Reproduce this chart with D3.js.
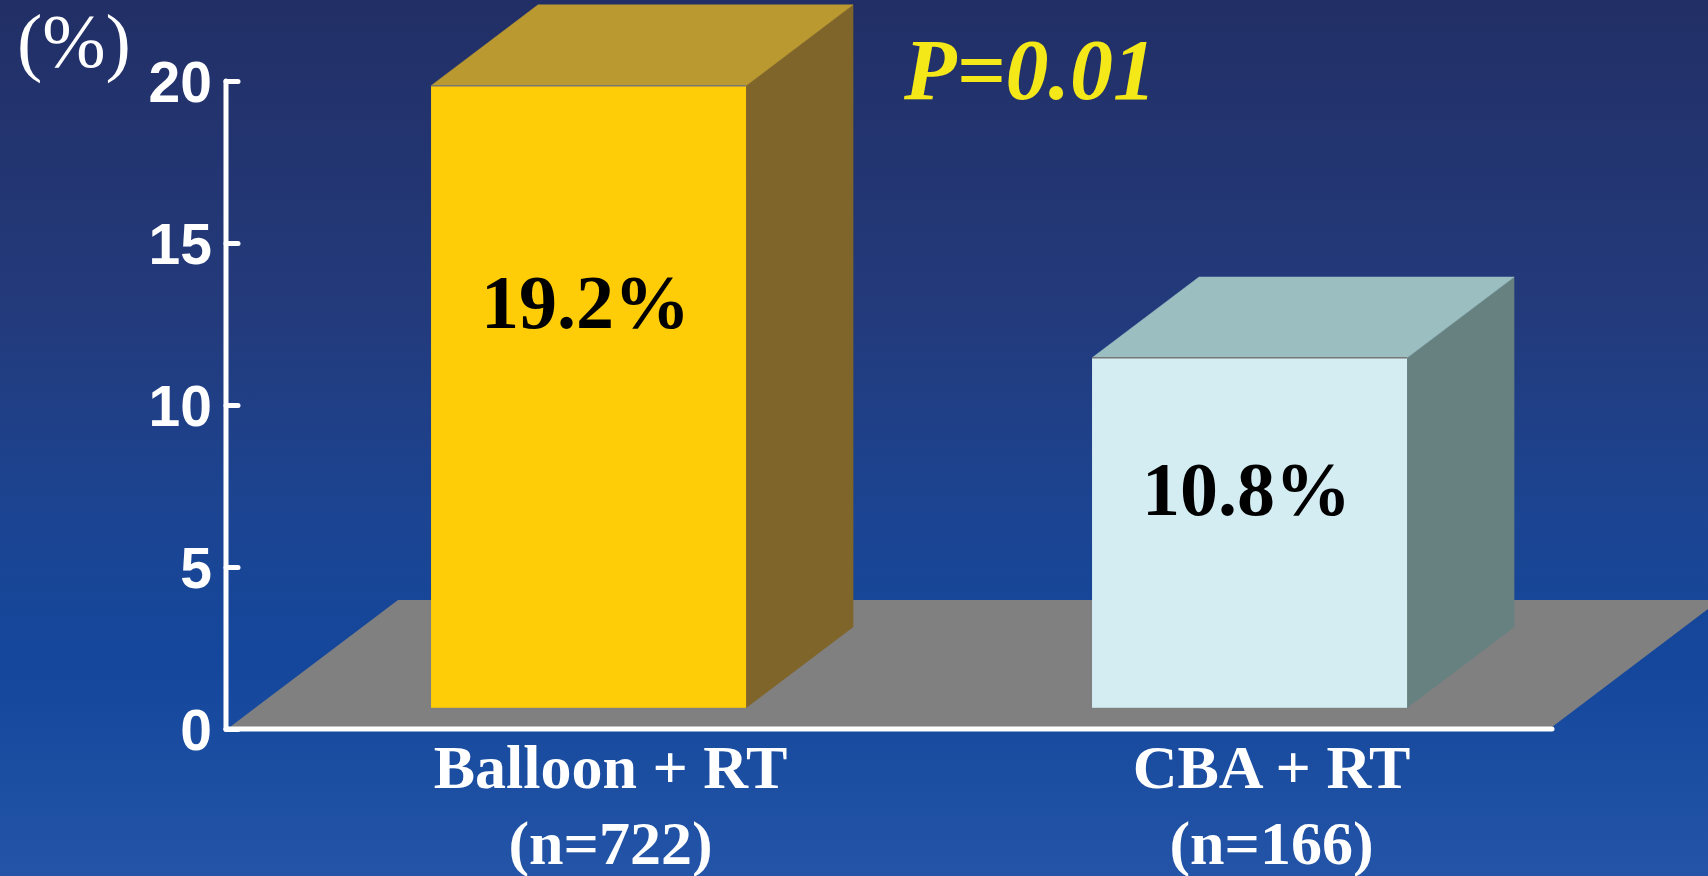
<!DOCTYPE html>
<html>
<head>
<meta charset="utf-8">
<script src="https://cdn.jsdelivr.net/npm/d3@7"></script>
<style>
  html, body { margin: 0; padding: 0; overflow: hidden; background: #22306a; }
  svg { display: block; }
</style>
</head>
<body>
<svg id="chart" width="1708" height="876"></svg>
<script>
// Restenosis rate by treatment group
const categories = ["Balloon + RT", "CBA + RT"];
const groupSizes = ["(n=722)", "(n=166)"];
const values = [19.2, 10.8];
const valueLabels = ["19.2%", "10.8%"];
const yTicks = [0, 5, 10, 15, 20];
const pValueLabel = "P=0.01";
const unitLabel = "(%)";

const W = 1708, H = 876;
const svg = d3.select("#chart");

// background gradient
const defs = svg.append("defs");
const grad = defs.append("linearGradient").attr("id", "bg")
  .attr("x1", 0).attr("y1", 0).attr("x2", 0).attr("y2", 1);
[[0, "#222f66"], [0.35, "#233a7b"], [0.58, "#1c4491"], [0.75, "#14479c"],
 [0.88, "#1b4da1"], [1, "#2354a7"]].forEach(([o, c]) =>
  grad.append("stop").attr("offset", o).attr("stop-color", c));
svg.append("rect").attr("width", W).attr("height", H).attr("fill", "url(#bg)");

// scales
const x = d3.scaleBand().domain(categories).range([230, 1552]);
const y = d3.scaleLinear().domain([0, 20]).range([729, 81]);

// oblique depth of the floor (z runs 0..1 from front to back)
const depth = { dx: 168, dy: -127 };
const zFront = 0.167, zBack = 0.804;
const barFrac = 0.4766;

const faceColors = [
  { front: "#fecd07", top: "#bb9931", side: "#7f652a" },
  { front: "#d4edf3", top: "#9bbfc0", side: "#678180" }
];

// floor
const fy = y(0) - 2;
const fl = x.range()[0], fr = x.range()[1];
svg.append("polygon")
  .attr("points", [[fl, fy], [fr, fy], [fr + depth.dx, fy + depth.dy], [fl + depth.dx, fy + depth.dy]]
    .map(p => p.join(",")).join(" "))
  .attr("fill", "#808080");

// category axis line
svg.append("line")
  .attr("x1", 226).attr("x2", fr).attr("y1", y(0)).attr("y2", y(0))
  .attr("stroke", "#fff").attr("stroke-width", 5).attr("stroke-linecap", "round");

// bars
const bars = svg.append("g").selectAll("g").data(values).join("g");
bars.each(function (v, i) {
  const g = d3.select(this);
  const bw = x.bandwidth() * barFrac;
  const x0 = x(categories[i]) + (x.bandwidth() - bw) / 2 + depth.dx * zFront;
  const x1 = x0 + bw;
  const yb = y(0) + depth.dy * zFront;
  const yt = y(v) + depth.dy * zFront;
  const ddx = depth.dx * (zBack - zFront), ddy = depth.dy * (zBack - zFront);
  const c = faceColors[i];
  const pts = a => a.map(p => p.join(",")).join(" ");
  g.append("polygon").attr("points", pts([[x1, yt], [x1 + ddx, yt + ddy], [x1 + ddx, yb + ddy], [x1, yb]]))
    .attr("fill", c.side).attr("stroke", c.side).attr("stroke-width", 0.5);
  g.append("polygon").attr("points", pts([[x0, yt], [x0 + ddx, yt + ddy], [x1 + ddx, yt + ddy], [x1, yt]]))
    .attr("fill", c.top).attr("stroke", c.top).attr("stroke-width", 0.5);
  g.append("rect").attr("x", x0).attr("y", yt).attr("width", bw).attr("height", yb - yt)
    .attr("fill", c.front);
  g.append("line").attr("x1", x0).attr("x2", x1).attr("y1", yt).attr("y2", yt)
    .attr("stroke", "#777").attr("stroke-width", 1.5);
  // value label inside the front face
  const labelFrac = [0.39, 0.45][i];
  g.append("text")
    .attr("x", (x0 + x1) / 2 - 3)
    .attr("y", yt + (yb - yt) * labelFrac)
    .attr("text-anchor", "middle")
    .attr("font-family", "'Liberation Serif', 'Times New Roman', serif")
    .attr("font-weight", "bold").attr("font-size", 76).attr("fill", "#000")
    .text(valueLabels[i]);
});

// value axis
const yAxis = d3.axisLeft(y).tickValues(yTicks).tickFormat(d3.format("d"))
  .tickSizeInner(-12).tickSizeOuter(0).tickPadding(14);
const ag = svg.append("g").attr("transform", "translate(226,0)").call(yAxis);
ag.select(".domain").attr("stroke", "#fff").attr("stroke-width", 5).attr("stroke-linecap", "round")
  .attr("d", `M0,${y(20)}V${y(0)}`);
ag.selectAll(".tick line").attr("stroke", "#fff").attr("stroke-width", 5).attr("stroke-linecap", "round");
ag.selectAll(".tick text").attr("fill", "#fff")
  .attr("font-family", "'Liberation Sans', Arial, sans-serif")
  .attr("font-weight", "bold").attr("font-size", 57).attr("dy", "0.36em");

// unit label
svg.append("text").attr("x", 17).attr("y", 67)
  .attr("font-family", "'Liberation Serif', 'Times New Roman', serif")
  .attr("font-size", 76).attr("fill", "#fff").text(unitLabel);

// significance
svg.append("text").attr("x", 904).attr("y", 99)
  .attr("font-family", "'Liberation Serif', 'Times New Roman', serif")
  .attr("font-weight", "bold").attr("font-style", "italic")
  .attr("font-size", 86).attr("fill", "#f4e818").text(pValueLabel);

// category labels
const cl = svg.append("g").selectAll("g").data(categories).join("g")
  .attr("transform", d => `translate(${x(d) + x.bandwidth() / 2 + 50},0)`)
  .attr("font-family", "'Liberation Serif', 'Times New Roman', serif")
  .attr("font-weight", "bold").attr("font-size", 62).attr("fill", "#fff")
  .attr("text-anchor", "middle");
cl.append("text").attr("y", 788).text(d => d);
cl.append("text").attr("y", 864).text((d, i) => groupSizes[i]);
</script>
</body>
</html>
